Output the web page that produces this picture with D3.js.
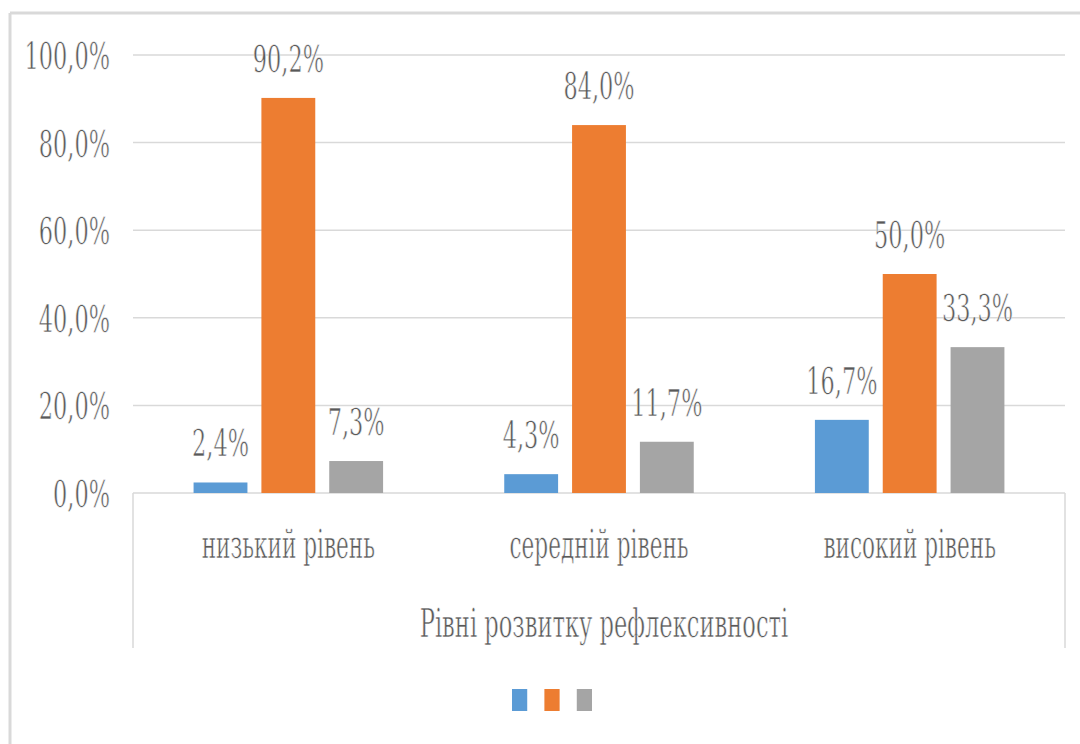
<!DOCTYPE html>
<meta charset="utf-8">
<style>
body { margin: 0; background: #fff; }
.tick_lab { font-size: 38px; text-anchor: end; }
.val { font-size: 38px; text-anchor: middle; }
.cat { font-size: 40px; text-anchor: middle; }
.title { font-size: 40px; text-anchor: middle; }
</style>
<svg width="1080" height="744"></svg>
<script src="https://d3js.org/d3.v7.min.js"></script>
<script>
var categories = ["низький рівень", "середній рівень", "високий рівень"];
var series1 = [2.4, 4.3, 16.7];
var series2 = [90.2, 84.0, 50.0];
var series3 = [7.3, 11.7, 33.3];
var ticks = [0, 20, 40, 60, 80, 100];
var axisTitle = "Рівні розвитку рефлексивності";

var colors = ["#5b9bd5", "#ed7d31", "#a5a5a5"];
var seriesList = [series1, series2, series3];
// text in the original is narrow and tall, so squeeze it sideways
var sxNum = 0.59, sxCat = 0.54, sxTitle = 0.565;
var serif = "'DejaVu Serif', serif";
var fmt = function(v) { return v.toFixed(1).replace(".", ",") + "%"; };

var svg = d3.select("svg");

// outer frame (only top and left visible)
svg.append("line").attr("x1", 10).attr("x2", 1080).attr("y1", 13).attr("y2", 13)
  .attr("stroke", "#d9d9d9").attr("stroke-width", 3);
svg.append("line").attr("x1", 10).attr("x2", 10).attr("y1", 13).attr("y2", 744)
  .attr("stroke", "#d9d9d9").attr("stroke-width", 3);

var left = 133, right = 1065;
var y = d3.scaleLinear().domain([0, 100]).range([493, 55]);
var x0 = d3.scaleBand().domain(categories).range([left, right])
  .paddingInner(0.39).paddingOuter(0.195);
var x1 = d3.scaleBand().domain([0, 1, 2]).range([0, x0.bandwidth()])
  .paddingInner(0.206);

// gridlines
svg.append("g").selectAll("line").data(ticks).enter().append("line")
  .attr("x1", left).attr("x2", right)
  .attr("y1", function(d) { return y(d); }).attr("y2", function(d) { return y(d); })
  .attr("stroke", "#d9d9d9").attr("stroke-width", 1.5);

// tick labels
svg.append("g").selectAll("text").data(ticks).enter().append("text")
  .attr("class", "tick_lab")
  .attr("transform", function(d) { return "translate(110," + (y(d) + 14) + ") scale(" + sxNum + ",1)"; })
  .text(function(d) { return fmt(d); });

// category box sides
svg.append("g").selectAll("line").data([left, right]).enter().append("line")
  .attr("x1", function(d) { return d; }).attr("x2", function(d) { return d; })
  .attr("y1", 493).attr("y2", 648)
  .attr("stroke", "#d9d9d9").attr("stroke-width", 1.5);

// bars
var rows = [];
categories.forEach(function(c, i) {
  seriesList.forEach(function(s, j) { rows.push({cat: c, s: j, v: s[i]}); });
});

var bars = svg.append("g");
bars.selectAll("rect").data(rows).enter().append("rect")
  .attr("x", function(d) { return x0(d.cat) + x1(d.s); })
  .attr("y", function(d) { return y(d.v); })
  .attr("width", x1.bandwidth())
  .attr("height", function(d) { return y(0) - y(d.v); })
  .attr("fill", function(d) { return colors[d.s]; });

bars.selectAll("text").data(rows).enter().append("text")
  .attr("class", "val")
  .attr("transform", function(d) {
    return "translate(" + (x0(d.cat) + x1(d.s) + x1.bandwidth() / 2) + "," + (y(d.v) - 26) + ") scale(" + sxNum + ",1)";
  })
  .text(function(d) { return fmt(d.v); });

// category labels
svg.append("g").selectAll("text").data(categories).enter().append("text")
  .attr("class", "cat")
  .attr("transform", function(d) { return "translate(" + (x0(d) + x0.bandwidth() / 2) + ",558) scale(" + sxCat + ",1)"; })
  .text(function(d) { return d; });

svg.append("text").attr("class", "title")
  .attr("transform", "translate(604,637) scale(" + sxTitle + ",1)")
  .text(axisTitle);

// thin white outline makes the heavy serif look lighter
svg.selectAll("text").attr("font-family", serif).attr("fill", "#595959")
  .attr("stroke", "#fff").attr("stroke-width", 0.7);

// legend (markers only)
var lx = d3.scaleBand().domain([0, 1, 2]).range([512, 592]).paddingInner(0.53);
svg.append("g").selectAll("rect").data([0, 1, 2]).enter().append("rect")
  .attr("x", function(d) { return lx(d); })
  .attr("y", 689).attr("width", lx.bandwidth()).attr("height", 22)
  .attr("fill", function(d) { return colors[d]; });
</script>
